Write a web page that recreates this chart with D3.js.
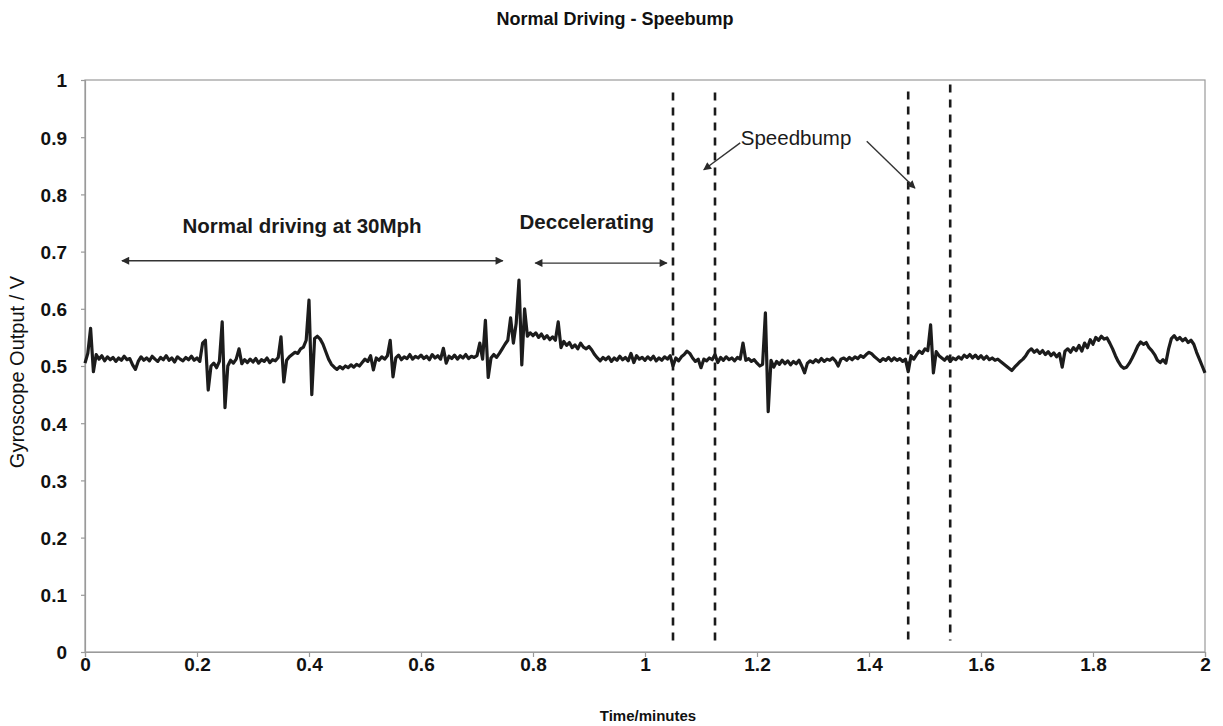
<!DOCTYPE html>
<html>
<head>
<meta charset="utf-8">
<script src="https://cdn.jsdelivr.net/npm/d3@7"></script>
<style>
  html, body { margin: 0; padding: 0; background: #fff; }
  svg { display: block; font-family: "Liberation Sans", Arial, sans-serif; }
</style>
</head>
<body>
<svg id="chart" width="1223" height="726"></svg>
<script>
// ---------------- data ----------------
const chartTitle = "Normal Driving - Speebump";
const xLabel = "Time/minutes";
const yLabel = "Gyroscope Output / V";
const xTicks = [0, 0.2, 0.4, 0.6, 0.8, 1, 1.2, 1.4, 1.6, 1.8, 2];
const yTicks = [0, 0.1, 0.2, 0.3, 0.4, 0.5, 0.6, 0.7, 0.8, 0.9, 1];
const sampleInterval = 0.005; // minutes between samples, first sample at t = 0
const gyroValues = [
  0.505,0.522,0.566,0.490,0.520,0.512,0.518,0.509,0.516,0.511,0.515,0.508,0.514,0.510,0.517,0.511,0.513,0.502,0.494,0.508,
  0.516,0.510,0.514,0.509,0.517,0.512,0.508,0.515,0.511,0.518,0.510,0.514,0.507,0.516,0.512,0.509,0.515,0.511,0.517,0.510,
  0.514,0.508,0.540,0.545,0.458,0.500,0.505,0.497,0.508,0.577,0.427,0.500,0.510,0.505,0.512,0.530,0.504,0.511,0.506,0.512,
  0.507,0.513,0.505,0.511,0.508,0.514,0.506,0.511,0.509,0.515,0.551,0.472,0.510,0.516,0.520,0.524,0.522,0.530,0.533,0.545,
  0.615,0.450,0.548,0.552,0.547,0.538,0.525,0.512,0.503,0.498,0.494,0.499,0.495,0.500,0.497,0.502,0.498,0.503,0.500,0.506,
  0.512,0.508,0.518,0.493,0.514,0.510,0.516,0.512,0.518,0.545,0.481,0.514,0.519,0.511,0.516,0.513,0.520,0.512,0.517,0.514,
  0.519,0.513,0.517,0.511,0.520,0.514,0.518,0.512,0.531,0.505,0.517,0.513,0.519,0.512,0.518,0.514,0.520,0.513,0.517,0.515,
  0.518,0.540,0.512,0.580,0.480,0.514,0.520,0.515,0.522,0.530,0.538,0.545,0.584,0.540,0.575,0.650,0.502,0.600,0.552,0.558,
  0.553,0.558,0.550,0.556,0.548,0.553,0.546,0.551,0.545,0.577,0.532,0.543,0.536,0.541,0.532,0.537,0.530,0.540,0.533,0.530,
  0.534,0.528,0.520,0.514,0.509,0.515,0.511,0.516,0.508,0.514,0.510,0.517,0.511,0.515,0.509,0.522,0.506,0.518,0.512,0.515,
  0.510,0.516,0.511,0.517,0.509,0.514,0.510,0.516,0.512,0.518,0.500,0.514,0.509,0.516,0.520,0.526,0.522,0.514,0.508,0.512,
  0.497,0.512,0.509,0.514,0.511,0.520,0.506,0.515,0.510,0.516,0.511,0.514,0.509,0.515,0.512,0.540,0.510,0.513,0.508,0.511,
  0.505,0.500,0.503,0.593,0.420,0.510,0.498,0.508,0.503,0.510,0.504,0.509,0.502,0.508,0.504,0.510,0.500,0.488,0.505,0.509,
  0.506,0.511,0.507,0.513,0.508,0.512,0.510,0.514,0.509,0.500,0.512,0.514,0.510,0.515,0.511,0.516,0.513,0.518,0.515,0.520,
  0.524,0.521,0.516,0.512,0.508,0.513,0.510,0.515,0.509,0.514,0.510,0.513,0.508,0.512,0.490,0.518,0.512,0.520,0.526,0.522,
  0.530,0.527,0.572,0.488,0.525,0.518,0.514,0.510,0.516,0.508,0.514,0.511,0.516,0.512,0.519,0.515,0.520,0.514,0.519,0.513,
  0.518,0.512,0.517,0.511,0.514,0.510,0.512,0.508,0.504,0.500,0.496,0.492,0.498,0.503,0.508,0.512,0.518,0.526,0.530,0.524,
  0.528,0.522,0.527,0.520,0.525,0.518,0.523,0.516,0.522,0.498,0.526,0.530,0.524,0.532,0.527,0.536,0.526,0.540,0.532,0.546,
  0.538,0.550,0.545,0.552,0.547,0.549,0.540,0.530,0.518,0.508,0.500,0.496,0.498,0.505,0.514,0.524,0.535,0.542,0.538,0.541,
  0.532,0.527,0.520,0.510,0.506,0.511,0.505,0.530,0.548,0.553,0.546,0.550,0.544,0.548,0.541,0.545,0.538,0.524,0.512,0.500,
  0.488
];
// vertical dashed markers (time, minutes) and their vertical extent (V)
const markerTimes = [1.05, 1.125, 1.47, 1.545];
const markerTop = [0.978, 0.978, 0.98, 0.992];
const markerBottom = [0.012, 0.012, 0.012, 0.02];
// double-headed span arrows: [startTime, endTime, level]
const spanArrows = [[0.066, 0.746, 0.684], [0.804, 1.039, 0.680]];
// single arrows from label: [fromTime, fromLevel, toTime, toLevel]
const pointerArrows = [[1.170, 0.890, 1.105, 0.843], [1.396, 0.893, 1.482, 0.811]];
// annotation labels: [text, time, level, anchor, weight]
const annotations = [
  ["Normal driving at 30Mph", 0.3875, 0.733, "middle", "bold"],
  ["Deccelerating", 0.776, 0.740, "start", "bold"],
  ["Speedbump", 1.171, 0.886, "start", "normal"]
];

// ---------------- layout ----------------
const W = 1223, H = 726;
const margin = {left: 85, right: 18, top: 80, bottom: 74};
const svg = d3.select("#chart");
const x = d3.scaleLinear().domain([0, 2]).range([margin.left, W - margin.right]);
const y = d3.scaleLinear().domain([0, 1]).range([H - margin.bottom, margin.top]);
const axisColor = "#9a9a9a";
const ink = "#1c1c1c";

// defs for arrowheads
const defs = svg.append("defs");
defs.append("marker").attr("id", "ah").attr("viewBox", "0 0 10 10")
  .attr("refX", 9).attr("refY", 5).attr("markerWidth", 10).attr("markerHeight", 8)
  .attr("markerUnits", "userSpaceOnUse").attr("orient", "auto-start-reverse")
  .append("path").attr("d", "M0,0 L10,5 L0,10 z").attr("fill", "#2a2a2a");

// frame
svg.append("rect")
  .attr("x", x(0)).attr("y", y(1))
  .attr("width", x(2) - x(0)).attr("height", y(0) - y(1))
  .attr("fill", "none").attr("stroke", axisColor).attr("stroke-width", 1.2);

// axes
const fmt = d => d3.format("~g")(d);
const xAxis = svg.append("g").attr("transform", `translate(0,${y(0)})`)
  .call(d3.axisBottom(x).tickValues(xTicks).tickFormat(fmt).tickSize(5).tickPadding(1));
const yAxis = svg.append("g").attr("transform", `translate(${x(0)},0)`)
  .call(d3.axisLeft(y).tickValues(yTicks).tickFormat(fmt).tickSize(4).tickPadding(14));
[xAxis, yAxis].forEach(g => {
  g.select(".domain").attr("stroke", axisColor).attr("stroke-width", 1.2);
  g.selectAll(".tick line").attr("stroke", axisColor).attr("stroke-width", 1.2);
  g.selectAll(".tick text").attr("fill", "#111").attr("font-size", 19)
    .attr("font-weight", "bold").attr("font-family", '"Liberation Sans", Arial, sans-serif');
});
yAxis.selectAll(".tick text").attr("dy", "0.36em");

// dashed markers
svg.append("g").selectAll("line").data(markerTimes).join("line")
  .attr("x1", d => x(d)).attr("x2", d => x(d))
  .attr("y1", (d, i) => y(markerTop[i])).attr("y2", (d, i) => y(markerBottom[i]))
  .attr("stroke", "#1a1a1a").attr("stroke-width", 2.6).attr("stroke-dasharray", "8,7");

// data line
const line = d3.line().x((d, i) => x(i * sampleInterval)).y(d => y(d));
svg.append("path").datum(gyroValues)
  .attr("d", line).attr("fill", "none").attr("stroke", ink)
  .attr("stroke-width", 3.2).attr("stroke-linejoin", "round");

// span arrows
svg.append("g").selectAll("line").data(spanArrows).join("line")
  .attr("x1", d => x(d[0])).attr("x2", d => x(d[1]))
  .attr("y1", d => y(d[2])).attr("y2", d => y(d[2]))
  .attr("stroke", "#333").attr("stroke-width", 1.3)
  .attr("marker-start", "url(#ah)").attr("marker-end", "url(#ah)");

// pointer arrows
svg.append("g").selectAll("line").data(pointerArrows).join("line")
  .attr("x1", d => x(d[0])).attr("y1", d => y(d[1]))
  .attr("x2", d => x(d[2])).attr("y2", d => y(d[3]))
  .attr("stroke", "#333").attr("stroke-width", 1.4)
  .attr("marker-end", "url(#ah)");

// annotations
svg.append("g").selectAll("text").data(annotations).join("text")
  .attr("x", d => x(d[1])).attr("y", d => y(d[2]))
  .attr("text-anchor", d => d[3]).attr("font-weight", d => d[4])
  .attr("font-size", 20.5).attr("fill", "#1a1a1a").text(d => d[0]);

// title and axis labels
svg.append("text").attr("x", 615).attr("y", 25).attr("text-anchor", "middle")
  .attr("font-size", 18).attr("font-weight", "bold").attr("fill", "#111").text(chartTitle);
svg.append("text").attr("x", 648).attr("y", 721).attr("text-anchor", "middle")
  .attr("font-size", 15).attr("font-weight", "bold").attr("fill", "#111").text(xLabel);
svg.append("text").attr("transform", `translate(24,${y(0.5) + 6}) rotate(-90)`)
  .attr("text-anchor", "middle").attr("font-size", 20).attr("fill", "#111").text(yLabel);
</script>
</body>
</html>
